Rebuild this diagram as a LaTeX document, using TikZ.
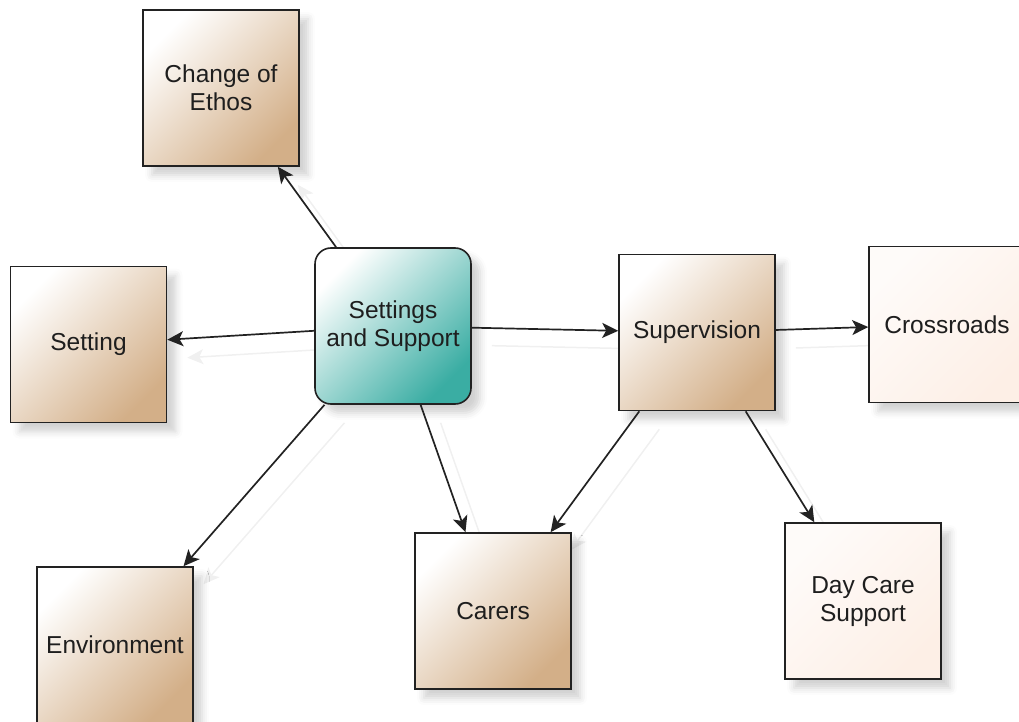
\documentclass[tikz,border=0pt]{standalone}
\usepackage{fontspec}
\setmainfont{Liberation Sans}
\usetikzlibrary{arrows.meta,shadows.blur}
\pgfdeclarelayer{bg}
\pgfsetlayers{bg,main}
\definecolor{txt}{HTML}{1E1E1E}
\definecolor{edge}{HTML}{222222}
\definecolor{tanE}{HTML}{D3AF88}
\definecolor{tealE}{HTML}{3AADA3}
\definecolor{peachA}{HTML}{FEFBF9}
\definecolor{peachE}{HTML}{FDEFE6}
\tikzset{
  box/.style={draw=edge, line width=1.6pt, minimum width=156pt, minimum height=156pt,
    inner sep=0pt, align=center, text=txt, font=\fontsize{24.5}{28}\selectfont,
    blur shadow={shadow xshift=9pt, shadow yshift=-9pt, shadow blur radius=7pt, shadow opacity=18}},
  brownbox/.style={box, top color=white, bottom color=tanE, shading angle=45},
  lightbox/.style={box, top color=peachA, bottom color=peachE, shading angle=45},
  tealbox/.style={box, rounded corners=16pt, top color=white, bottom color=tealE, shading angle=45},
  link/.style={draw=edge, line width=1.7pt, -{Stealth[length=16pt,width=15pt,inset=4pt]}},
  ghost/.style={draw=black!6, line width=1.5pt, -{Stealth[length=16pt,width=15pt,inset=4pt]},
    transform canvas={shift={(20pt,-18pt)}}}
}
\begin{document}
\begin{tikzpicture}[x=1pt,y=1pt]
\useasboundingbox (0,0) rectangle (1019,-722);
\node[brownbox] (ethos) at (221,-88) {Change of\\Ethos};
\node[brownbox] (setting) at (88.5,-344.5) {Setting};
\node[tealbox] (ss) at (393,-326) {Settings\\and Support};
\node[brownbox] (sup) at (697,-332.5) {Supervision};
\node[lightbox] (cross) at (947,-324.5) {Crossroads};
\node[brownbox] (env) at (115,-645) {Environment};
\node[brownbox] (carers) at (493,-611) {Carers};
\node[lightbox] (day) at (863,-601) {Day Care\\Support};
\begin{pgfonlayer}{bg}
\draw[ghost] (ss) -- (ethos);
\draw[ghost] (ss) -- (setting);
\draw[ghost] (ss) -- (env);
\draw[ghost] (ss) -- (carers);
\draw[ghost] (ss) -- (sup);
\draw[ghost] (sup) -- (cross);
\draw[ghost] (sup) -- (carers);
\draw[ghost] (sup) -- (day);
\end{pgfonlayer}
\draw[link] (ss) -- (ethos);
\draw[link] (ss) -- (setting);
\draw[link] (ss) -- (env);
\draw[link] (ss) -- (carers);
\draw[link] (ss) -- (sup);
\draw[link] (sup) -- (cross);
\draw[link] (sup) -- (carers);
\draw[link] (sup) -- (day);
\end{tikzpicture}
\end{document}
